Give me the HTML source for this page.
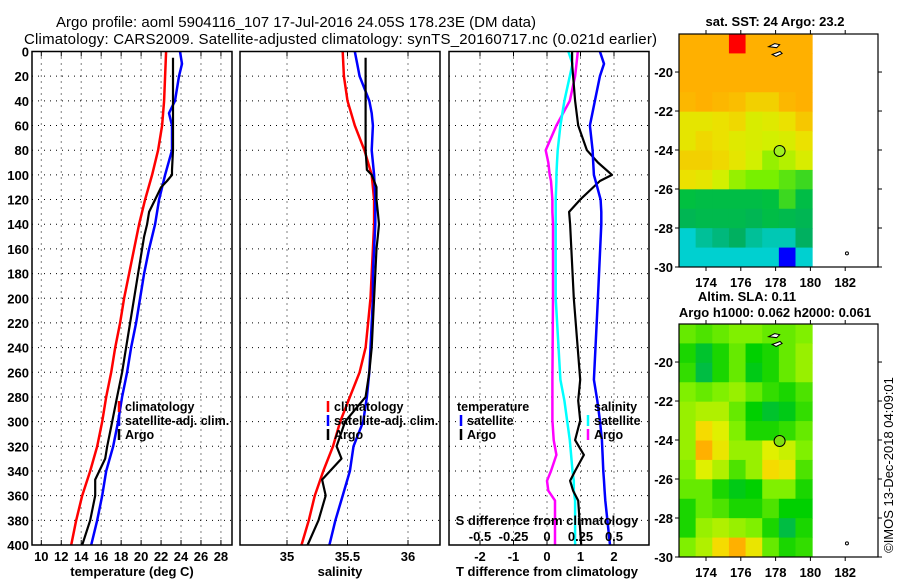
<!DOCTYPE html>
<html><head><meta charset="utf-8"><style>
body{margin:0;background:#fff}
svg{display:block;font-family:"Liberation Sans",sans-serif;font-weight:bold}
</style></head><body>
<svg id="c" width="900" height="580" xmlns="http://www.w3.org/2000/svg"></svg>
<script>
// ---------- data ----------
const depthsClim=[0,20,40,60,80,100,120,140,160,180,200,220,240,260,280,300,320,340,360,380,400];
const tempClim=[22.5,22.4,22.3,22.1,21.7,21.1,20.4,19.8,19.3,18.8,18.3,17.9,17.4,17.0,16.5,16.1,15.6,14.9,14.1,13.5,13.0];
const depthsSat=[0,10,20,40,50,60,80,100,120,140,160,180,200,220,240,260,280,300,320,340,360,380,400];
const tempSat=[23.9,24.1,23.8,23.4,22.8,23.1,23.1,22.4,21.8,21.4,20.8,20.3,19.9,19.5,19.0,18.6,18.1,17.7,17.2,16.5,16.1,15.6,15.0];
const depthsArgo=[5,20,40,60,80,96,100,105,110,120,130,140,150,160,180,200,220,240,260,280,300,320,330,347,360,380,400];
const tempArgo=[23.2,23.2,23.2,23.2,23.2,23.1,23.1,22.6,22.0,21.4,20.8,20.6,20.3,20.1,19.7,19.3,18.9,18.5,18.1,17.6,17.1,16.6,16.4,15.4,15.4,14.9,14.1];
const salClim=[35.46,35.47,35.50,35.56,35.64,35.70,35.72,35.72,35.71,35.70,35.69,35.67,35.65,35.60,35.52,35.44,35.38,35.30,35.23,35.18,35.12];
const salSat=[35.56,35.58,35.60,35.68,35.70,35.71,35.70,35.72,35.73,35.73,35.72,35.71,35.71,35.70,35.69,35.68,35.66,35.63,35.55,35.52,35.46,35.40,35.35];
const salArgo=[35.65,35.65,35.65,35.65,35.65,35.66,35.70,35.72,35.74,35.74,35.75,35.76,35.75,35.74,35.73,35.72,35.71,35.70,35.68,35.65,35.48,35.41,35.45,35.29,35.32,35.26,35.17];
const depthsDiff=[0,10,20,40,60,80,90,100,105,120,130,140,200,266,283,299,315,327,340,348,356,364,400];
const tDiffSat=[1.58,1.70,1.58,1.43,1.28,1.36,1.38,1.40,1.45,1.60,1.62,1.62,1.52,1.40,1.50,1.58,1.64,1.66,1.68,1.70,1.72,1.74,1.88];
const tDiffArgo=[0.75,0.75,0.78,0.84,0.93,1.19,1.52,1.94,1.58,0.99,0.66,0.69,0.80,0.99,0.93,0.99,0.84,1.10,0.84,0.69,0.78,0.93,1.02];
const sDiffSat=[0.16,0.19,0.17,0.13,0.10,0.08,0.075,0.07,0.07,0.065,0.065,0.065,0.065,0.10,0.13,0.15,0.17,0.18,0.19,0.20,0.20,0.21,0.21];
const sDiffArgo=[0.23,0.22,0.21,0.17,0.07,-0.01,0.01,0.02,0.03,0.04,0.04,0.045,0.045,0.04,0.04,0.04,0.05,0.07,0.03,0.0,0.01,0.06,0.06];
const tTicks=[10,12,14,16,18,20,22,24,26,28];
const sTicks=[35,35.5,36];
const dTicks=[-2,-1,0,1,2];
const sdTicks=[-0.5,-0.25,0,0.25,0.5];
const sdTickLabels=["-0.5","-0.25","0","0.25","0.5"];
const depthTicks=[0,20,40,60,80,100,120,140,160,180,200,220,240,260,280,300,320,340,360,380,400];
const lonTicks=[174,176,178,180,182];
const latTicks=[-20,-22,-24,-26,-28,-30];
const sstGrid=[
[24.5,24.5,24.6,25.5,24.5,24.5,24.5,24.5],
[24.4,24.5,24.5,24.5,24.5,24.5,24.5,24.5],
[24.3,24.4,24.5,24.5,24.5,24.5,24.5,24.5],
[24.2,24.3,24.2,24.1,23.9,23.9,24.2,24.3],
[23.6,23.6,23.7,23.8,23.4,23.5,23.7,24.0],
[23.6,23.8,23.7,23.5,23.4,23.3,23.4,23.7],
[23.9,23.9,23.8,23.6,23.3,23.1,23.2,23.4],
[23.7,23.6,23.3,23.1,23.0,23.0,22.9,22.8],
[22.6,22.5,22.5,22.5,22.5,22.6,22.8,22.5],
[22.3,22.4,22.4,22.4,22.3,22.5,22.4,22.3],
[21.7,21.9,22.0,22.1,21.9,21.8,21.8,22.1],
[21.5,21.3,21.5,21.6,21.6,21.6,21.2,21.6]];
const slaGrid=[
[.45,.4,.45,.5,.5,.45,.45,.5],
[.3,.15,.3,.45,.25,.3,.45,.55],
[.35,.1,.3,.45,.2,.3,.45,.55],
[.5,.45,.5,.55,.45,.35,.3,.4],
[.55,.6,.6,.45,.25,.15,.2,.35],
[.55,.8,.7,.5,.3,.3,.35,.45],
[.55,.95,.75,.55,.55,.7,.65,.5],
[.5,.7,.6,.4,.55,.8,.75,.4],
[.45,.45,.3,.2,.25,.5,.5,.3],
[.3,.45,.4,.3,.3,.4,.25,.25],
[.3,.55,.6,.55,.5,.3,.1,.3],
[.5,.6,.8,.95,.75,.45,.3,.35]];

// ---------- helpers ----------
const svg=document.getElementById('c');
const NS='http://www.w3.org/2000/svg';
function mk(tag,attrs,parent){const e=document.createElementNS(NS,tag);for(const k in attrs)e.setAttribute(k,attrs[k]);(parent||svg).appendChild(e);return e;}
function txt(s,x,y,size,anchor,parent,extra){const e=mk('text',Object.assign({x:x,y:y,'font-size':size,'text-anchor':anchor||'middle'},extra||{}),parent);e.textContent=s;return e;}
const Y0=51.5,Y1=545;
const yD=d=>Y0+(d-0)*(Y1-Y0)/400;
const xT=t=>41.3+(t-10)*9.98;
const xS=s=>287+(s-35)*121;
const xD=t=>547+t*33.5;
const xSD=s=>547+s*134;

function panel(x0,x1,name){
  const g=mk('g',{});
  
  
  return g;
}
function hgrid(g,x0,x1){depthTicks.forEach(d=>{if(d>0&&d<400)mk('line',{x1:x0,x2:x1,y1:yD(d),y2:yD(d),stroke:'#000','stroke-width':1,'stroke-dasharray':'1,5'},g);});}
function vgrid(g,xs){xs.forEach(x=>{mk('line',{x1:x,x2:x,y1:Y0,y2:Y1,stroke:'#000','stroke-width':1,'stroke-dasharray':'1,5'},g);
  mk('line',{x1:x,x2:x,y1:Y0,y2:Y0+5,stroke:'#000'},g);mk('line',{x1:x,x2:x,y1:Y1-5,y2:Y1,stroke:'#000'},g);});}
function line(g,xs,ys,color,w,name){const pts=xs.map((v,i)=>v.toFixed(1)+','+ys[i].toFixed(1)).join(' ');
  const p=mk('polyline',{points:pts,fill:'none',stroke:color,'stroke-width':w,'stroke-linejoin':'round'},g);
  
  }
function frame(g,x0,x1){mk('rect',{x:x0,y:Y0,width:x1-x0,height:Y1-Y0,fill:'none',stroke:'#000','stroke-width':1.5},g);}
function legendMark(g,x,y,color){mk('line',{x1:x,x2:x,y1:y-10,y2:y+1,stroke:color,'stroke-width':2.5},g);}

// titles
const t1=txt('Argo profile: aoml 5904116_107 17-Jul-2016 24.05S 178.23E (DM data)',56,27,15,'start',null,{textLength:480,'font-weight':'normal'});

const t2=txt('Climatology: CARS2009. Satellite-adjusted climatology: synTS_20160717.nc (0.021d earlier)',24,44,15,'start',null,{textLength:633,'font-weight':'normal'});


// depth labels
const dl=mk('g',{});
depthTicks.forEach(d=>txt(String(d),29,yD(d)+5,13,'end',dl));

// ---- panel 1: temperature ----
let g=panel(32,232,'temperature-panel');
hgrid(g,32,232);vgrid(g,tTicks.map(xT));
line(g,tempClim.map(xT),depthsClim.map(yD),'#f00',2.5,'temp-climatology-line');
line(g,tempSat.map(xT),depthsSat.map(yD),'#00f',2.5,'temp-satellite-line');
line(g,tempArgo.map(xT),depthsArgo.map(yD),'#000',2.2,'temp-argo-line');
frame(g,32,232);
tTicks.forEach(t=>txt(String(t),xT(t),561,13,'middle',g));
txt('temperature (deg C)',132,576,13,'middle',g);
legendMark(g,119,411,'#f00');txt('climatology',125,411,12.5,'start',g);
legendMark(g,119,425,'#00f');txt('satellite-adj. clim.',125,425,12.5,'start',g);
legendMark(g,119,439,'#000');txt('Argo',125,439,12.5,'start',g);

// ---- panel 2: salinity ----
g=panel(240,440,'salinity-panel');
hgrid(g,240,440);vgrid(g,sTicks.map(xS));
line(g,salClim.map(xS),depthsClim.map(yD),'#f00',2.5,'sal-climatology-line');
line(g,salSat.map(xS),depthsSat.map(yD),'#00f',2.5,'sal-satellite-line');
line(g,salArgo.map(xS),depthsArgo.map(yD),'#000',2.2,'sal-argo-line');
frame(g,240,440);
sTicks.forEach(s=>txt(String(s),xS(s),561,13,'middle',g));
txt('salinity',340,576,13,'middle',g);
legendMark(g,328,411,'#f00');txt('climatology',334,411,12.5,'start',g);
legendMark(g,328,425,'#00f');txt('satellite-adj. clim.',334,425,12.5,'start',g);
legendMark(g,328,439,'#000');txt('Argo',334,439,12.5,'start',g);

// ---- panel 3: differences ----
g=panel(449,649,'difference-panel');
hgrid(g,449,649);vgrid(g,dTicks.map(xD));
line(g,sDiffArgo.map(xSD),depthsDiff.map(yD),'#f0f',2.5,'sal-diff-argo-line');
line(g,sDiffSat.map(xSD),depthsDiff.map(yD),'#0ff',2.5,'sal-diff-satellite-line');
line(g,tDiffArgo.map(xD),depthsDiff.map(yD),'#000',2.2,'temp-diff-argo-line');
line(g,tDiffSat.map(xD),depthsDiff.map(yD),'#00f',2.5,'temp-diff-satellite-line');
frame(g,449,649);
dTicks.forEach(t=>txt(String(t),xD(t),561,13,'middle',g));
txt('T difference from climatology',547,576,13,'middle',g);
txt('S difference from climatology',547,525,13,'middle',g);
sdTicks.forEach((s,i)=>txt(sdTickLabels[i],xSD(s),541,13,'middle',g));
txt('temperature',457,411,12.5,'start',g);
legendMark(g,461,425,'#00f');txt('satellite',467,425,12.5,'start',g);
legendMark(g,461,439,'#000');txt('Argo',467,439,12.5,'start',g);
txt('salinity',594,411,12.5,'start',g);
legendMark(g,588,425,'#0ff');txt('satellite',594,425,12.5,'start',g);
legendMark(g,588,439,'#f0f');txt('Argo',594,439,12.5,'start',g);

// ---------- maps ----------
function rgb(c){return 'rgb('+c.join(',')+')';}
function lerpC(stops,v){if(v<=stops[0][0])return rgb(stops[0][1]);for(let i=1;i<stops.length;i++){if(v<=stops[i][0]){const a=stops[i-1],b=stops[i],f=(v-a[0])/(b[0]-a[0]);
 return rgb([0,1,2].map(k=>Math.round(a[1][k]+f*(b[1][k]-a[1][k]))));}}return rgb(stops[stops.length-1][1]);}
const sstStops=[[21.2,[0,0,255]],[21.3,[0,208,208]],[21.7,[0,208,208]],[22.1,[0,176,96]],[22.6,[0,192,64]],[23.0,[120,240,0]],[23.3,[210,240,0]],[23.7,[235,225,0]],[24.1,[250,190,0]],[24.3,[255,176,0]],[25.0,[255,176,0]],[25.4,[255,0,0]]];
const slaStops=[[0,[0,176,112]],[0.25,[0,208,0]],[0.5,[128,240,0]],[0.7,[224,240,0]],[0.85,[255,208,0]],[1,[255,160,0]]];
function map(y0,y1,grid,stops,name,title){
  const mg=mk('g',{});
  const X0=679,X1=878,latTop=-18.05,latBot=-30;
  const lx=l=>706+(l-174)*17.4;
  const ly=la=>y0+(latTop-la)*(y1-y0)/(latTop-latBot);
  const dataRight=lx(180.1);
  const rows=grid.length,cols=grid[0].length,cw=(dataRight-X0)/cols,ch=(y1-y0)/rows;
  grid.forEach((r,i)=>r.forEach((v,j)=>{
    const c=mk('rect',{x:X0+j*cw,y:y0+i*ch,width:cw+0.5,height:ch+0.5,fill:lerpC(stops,v)},mg);
    
    
  }));
  mk('path',{d:`M${lx(177.6)},${ly(-18.7)} l6,-3 l5,1 l-3,3 z M${lx(177.8)},${ly(-19.1)} l8,-3 l2,2 l-6,3 z`,fill:'#fff',stroke:'#000','stroke-width':1},mg);
  mk('circle',{cx:lx(182.1),cy:ly(-29.3),r:1.5,fill:'none',stroke:'#000'},mg);
  const vx=lx(178.23),vy=ly(-24.05);
  const dot=mk('circle',{cx:vx,cy:vy,r:5.5,fill:name==='sst-map'?'#a0f020':'#80e010',stroke:'#000','stroke-width':1},mg);
  
  mk('rect',{x:X0,y:y0,width:X1-X0,height:y1-y0,fill:'none',stroke:'#000','stroke-width':1.2},mg);
  lonTicks.forEach(l=>{mk('line',{x1:lx(l),x2:lx(l),y1:y0,y2:y0-4,stroke:'#000'},mg);mk('line',{x1:lx(l),x2:lx(l),y1:y1,y2:y1+4,stroke:'#000'},mg);
    txt(String(l),lx(l),y1+20,13,'middle',mg);});
  latTicks.forEach(la=>{mk('line',{x1:X0,x2:X0-4,y1:ly(la),y2:ly(la),stroke:'#000'},mg);mk('line',{x1:X1,x2:X1+4,y1:ly(la),y2:ly(la),stroke:'#000'},mg);
    txt(String(la),673,ly(la)+5,13,'end',mg);});
  title.forEach((t,i)=>txt(t[0],t[1],t[2],13,'middle',mg));
}
map(34,267,sstGrid,sstStops,'sst-map',[['sat. SST: 24 Argo: 23.2',775,26]]);
map(324,557,slaGrid,slaStops,'sla-map',[['Altim. SLA: 0.11',747,301],['Argo h1000: 0.062 h2000: 0.061',775,317]]);
const cr=txt('©IMOS 13-Dec-2018 04:09:01',0,0,13,'middle',null,{transform:'translate(893,465) rotate(-90)','font-weight':'normal'});

</script>
</body></html>
